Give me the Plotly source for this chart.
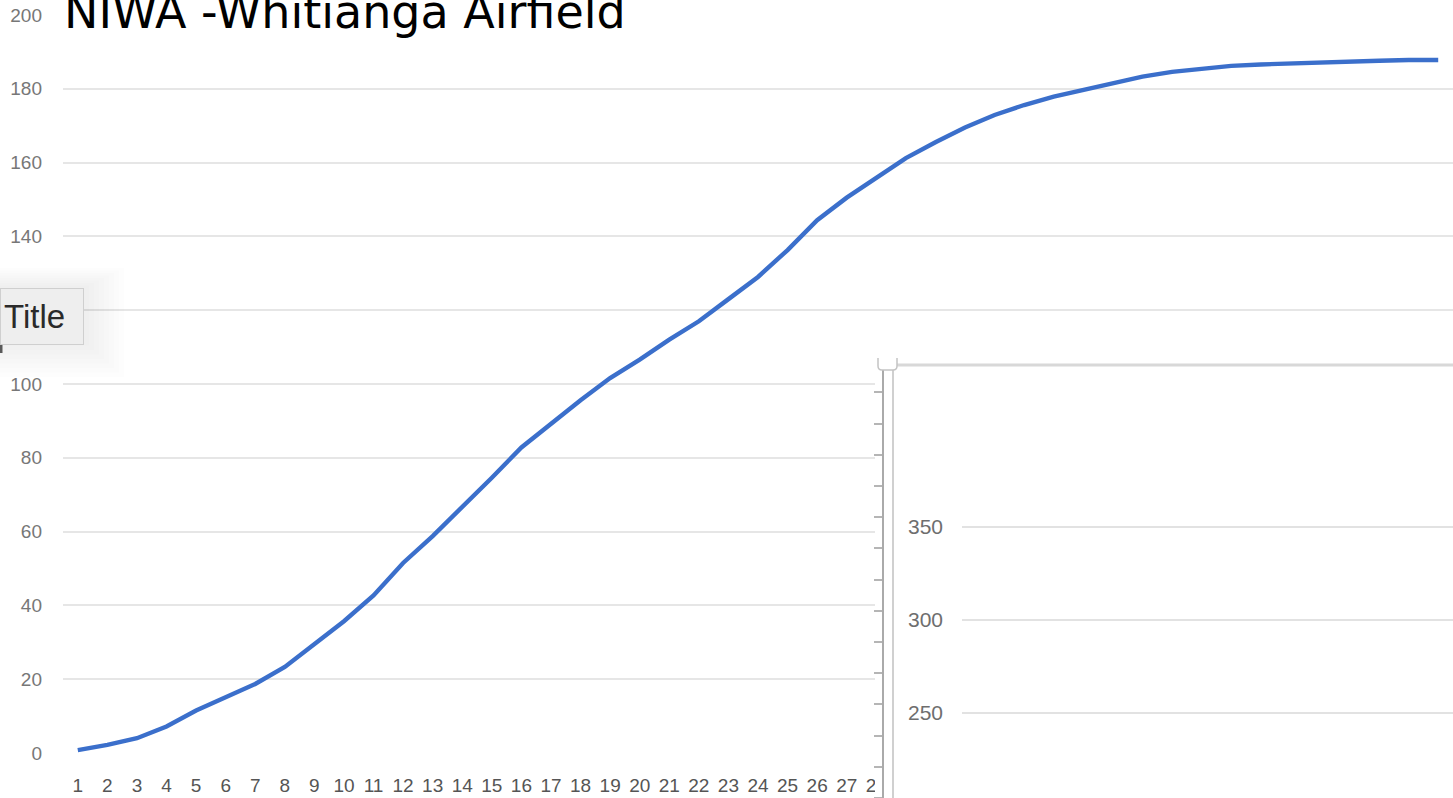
import plotly.graph_objects as go

W, H = 1453, 798

# Cumulative totals per period
periods = list(range(1, 48))
cumulative = [
    0.8, 2.2, 4.0, 7.2, 11.5, 15.2, 18.7, 23.3, 29.4, 35.7,
    42.7, 51.5, 58.8, 66.6, 74.6, 82.8, 89.3, 95.6, 101.6, 106.6,
    112.0, 117.0, 123.0, 129.0, 136.3, 144.4, 150.5, 156.0, 161.2, 165.5,
    169.5, 172.9, 175.6, 177.9, 179.7, 181.5, 183.3, 184.6, 185.5, 186.2,
    186.6, 186.9, 187.2, 187.4, 187.6, 187.8, 187.8,
]
main_yticks = list(range(0, 201, 20))

# Second (overlapping) chart's value axis
inset_yticks = [250, 300, 350]
inset_range = [204.3, 437.1]


def px(x):
    return x / W


def py(y):
    return (H - y) / H


fig = go.Figure()

fig.add_trace(go.Scatter(
    x=periods, y=cumulative, mode="lines",
    line=dict(color="#3b6fcb", width=4.4),
    hoverinfo="skip", showlegend=False,
    xaxis="x", yaxis="y",
))
# Panel of the overlapping chart (frame + ticks) and its plot area
fig.add_trace(go.Scatter(x=[], y=[], xaxis="x2", yaxis="y2",
                         showlegend=False, hoverinfo="skip"))
fig.add_trace(go.Scatter(x=[], y=[], xaxis="x3", yaxis="y3",
                         showlegend=False, hoverinfo="skip"))

grid = "#e6e6e6"
font_main = "Liberation Sans, Arial, sans-serif"

fig.update_layout(
    width=W, height=H,
    margin=dict(l=0, r=0, t=0, b=0, autoexpand=False),
    paper_bgcolor="white", plot_bgcolor="white",
    xaxis=dict(
        domain=[px(63), 1], range=[0.5, 47.5],
        tickvals=periods, ticktext=[str(p) for p in periods],
        showgrid=False, zeroline=False, showline=False, ticks="",
        tickfont=dict(family=font_main, size=19, color="#555555"),
        ticklabelstandoff=19, anchor="y", automargin=False,
    ),
    yaxis=dict(
        domain=[py(753), py(15)], range=[0, 200],
        tickvals=main_yticks,
        showgrid=True, gridcolor=grid, gridwidth=2,
        zeroline=False, showline=False, ticks="",
        tickfont=dict(family=font_main, size=19, color="#777777"),
        ticklabelstandoff=20, anchor="x", automargin=False,
    ),
    xaxis2=dict(domain=[px(875), 1], range=[0, 1], visible=False,
                anchor="y2", automargin=False),
    yaxis2=dict(
        domain=[0, py(365)], range=[0, 433],
        anchor="free", position=px(883),
        showline=True, linecolor="#aaaaaa", linewidth=2,
        ticks="outside", ticklen=8, tickwidth=1.5, tickcolor="#b5b5b5",
        tick0=0, dtick=31.2, showticklabels=False,
        showgrid=False, zeroline=False, automargin=False,
    ),
    xaxis3=dict(domain=[px(962), 1], range=[0, 1], visible=False,
                anchor="y3", automargin=False),
    yaxis3=dict(
        domain=[0, py(365)], range=inset_range,
        tickvals=inset_yticks, anchor="x3",
        showgrid=True, gridcolor="#e2e2e2", gridwidth=2,
        zeroline=False, showline=False, ticks="",
        tickfont=dict(family=font_main, size=21, color="#6e6e6e"),
        ticklabelstandoff=18, automargin=False,
    ),
)

shapes = []
# soft shadow around the floating "Title" button
for i in range(8):
    g = 40 - i * 5
    shapes.append(dict(
        type="rect", xref="paper", yref="paper",
        x0=px(0), x1=px(84 + g), y0=py(341 + g * 0.9), y1=py(288 - g * 0.5),
        fillcolor="rgba(0,0,0,0.007)", line=dict(width=0), layer="above",
    ))
# small dark tab under the button
shapes.append(dict(type="rect", xref="paper", yref="paper",
                   x0=0, x1=px(2.5), y0=py(353), y1=py(341),
                   fillcolor="#5a5a5a", line=dict(width=0), layer="above"))
# frame of the overlapping chart
shapes.append(dict(type="line", xref="paper", yref="paper",
                   x0=px(893), x1=px(893), y0=py(368), y1=0,
                   line=dict(color="#d0d0d0", width=2), layer="above"))
shapes.append(dict(type="line", xref="paper", yref="paper",
                   x0=px(897), x1=1, y0=py(365), y1=py(365),
                   line=dict(color="#d8d8d8", width=3), layer="above"))
handle = (f"M {px(878)} {py(358)} L {px(878)} {py(366)} "
          f"Q {px(878)} {py(370)} {px(882)} {py(370)} "
          f"L {px(893)} {py(370)} Q {px(897)} {py(370)} {px(897)} {py(366)} "
          f"L {px(897)} {py(358)}")
shapes.append(dict(type="path", xref="paper", yref="paper", path=handle,
                   fillcolor="white", line=dict(color="#c4c4c4", width=1.5),
                   layer="above"))
fig.update_layout(shapes=shapes)

fig.add_annotation(
    text="NIWA -Whitianga Airfield", xref="paper", yref="paper",
    x=px(62), y=py(41), xanchor="left", yanchor="bottom",
    showarrow=False,
    font=dict(family="DejaVu Sans, sans-serif", size=46, color="#000000"),
)
fig.add_annotation(
    text="Title", xref="paper", yref="paper",
    x=0, y=py(288), xanchor="left", yanchor="top",
    showarrow=False, align="left",
    width=76, height=49, borderpad=3,
    bgcolor="#eeeeee", bordercolor="#cfcfcf", borderwidth=1,
    font=dict(family="Liberation Sans, Arial, sans-serif", size=33, color="#2a2a2a"),
)

fig.write_html("out.html", include_plotlyjs=True, config={"displayModeBar": False})
